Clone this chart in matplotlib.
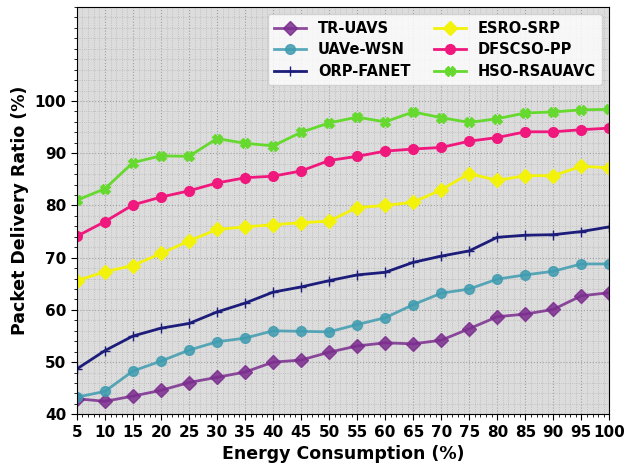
import numpy as np
import matplotlib.pyplot as plt
from matplotlib.ticker import MultipleLocator

plt.rcParams['font.family'] = 'DejaVu Sans'
plt.rcParams['font.weight'] = 'bold'

energy = [5, 10, 15, 20, 25, 30, 35, 40, 45, 50, 55, 60, 65, 70, 75, 80, 85, 90, 95, 100]

tr_uavs = [43.0, 42.5, 43.5, 44.6, 46.1, 47.1, 48.1, 50.0, 50.4, 51.9,
           53.1, 53.7, 53.5, 54.2, 56.4, 58.7, 59.2, 60.1, 62.7, 63.3]
uave_wsn = [43.3, 44.4, 48.3, 50.2, 52.3, 53.9, 54.6, 56.0, 55.9, 55.8,
            57.2, 58.5, 61.0, 63.2, 64.0, 65.9, 66.7, 67.4, 68.8, 68.8]
orp_fanet = [48.7, 52.2, 55.0, 56.5, 57.4, 59.6, 61.3, 63.4, 64.4, 65.6,
             66.7, 67.2, 69.1, 70.3, 71.3, 73.9, 74.3, 74.4, 75.0, 75.9]
esro_srp = [65.6, 67.3, 68.5, 70.8, 73.2, 75.4, 75.9, 76.3, 76.7, 77.0,
            79.6, 80.0, 80.6, 83.0, 86.1, 84.8, 85.7, 85.7, 87.5, 87.2]
dfscso_pp = [74.1, 76.9, 80.1, 81.6, 82.8, 84.3, 85.3, 85.6, 86.6, 88.6,
             89.4, 90.4, 90.8, 91.1, 92.3, 93.0, 94.1, 94.1, 94.5, 94.8]
hso_rsauavc = [81.0, 83.2, 88.2, 89.5, 89.4, 92.8, 91.9, 91.4, 94.0, 95.8,
               96.9, 96.0, 97.9, 96.8, 95.9, 96.6, 97.7, 97.9, 98.3, 98.4]

fig, ax = plt.subplots(figsize=(6.25, 4.63), dpi=100)
ax.set_facecolor('#dcdcdc')

ax.plot(energy, tr_uavs, marker='D', ms=7, lw=2, color='#7b2d8e', alpha=0.85, label='TR-UAVS')
ax.plot(energy, uave_wsn, marker='o', ms=7, lw=2, color='#3f9cb0', alpha=0.85, label='UAVe-WSN')
ax.plot(energy, orp_fanet, marker='+', ms=7, lw=2, color='#1c1c7a', label='ORP-FANET')
ax.plot(energy, esro_srp, marker='D', ms=7, lw=2, color='#f2f20a', label='ESRO-SRP')
ax.plot(energy, dfscso_pp, marker='o', ms=7, lw=2, color='#f0177d', label='DFSCSO-PP')
ax.plot(energy, hso_rsauavc, marker='X', ms=7, lw=2, color='#66d92e', label='HSO-RSAUAVC')

ax.set_xlim(5, 100)
ax.set_ylim(40, 118)
ax.set_xticks(energy)
ax.set_yticks([40, 50, 60, 70, 80, 90, 100])
ax.xaxis.set_minor_locator(MultipleLocator(1))
ax.yaxis.set_minor_locator(MultipleLocator(2))
ax.grid(which='major', color='#a0a0a0', linestyle=':', linewidth=0.8)
ax.grid(which='minor', color='#b8b8b8', linestyle=':', linewidth=0.6)
ax.set_axisbelow(True)
ax.tick_params(axis='both', which='major', labelsize=11, length=4)
ax.tick_params(axis='both', which='minor', length=2)
for lab in ax.get_xticklabels() + ax.get_yticklabels():
    lab.set_fontweight('bold')

ax.set_xlabel('Energy Consumption (%)', fontsize=12.5, fontweight='bold')
ax.set_ylabel('Packet Delivery Ratio (%)', fontsize=12.5, fontweight='bold')

leg = ax.legend(loc='upper right', ncol=2, prop={'weight': 'bold', 'size': 10.5},
                columnspacing=1.6, handlelength=2.2, borderpad=0.45, labelspacing=0.45)

plt.subplots_adjust(left=0.123, right=0.975, top=0.985, bottom=0.105)
plt.savefig('out.png', dpi=100)
